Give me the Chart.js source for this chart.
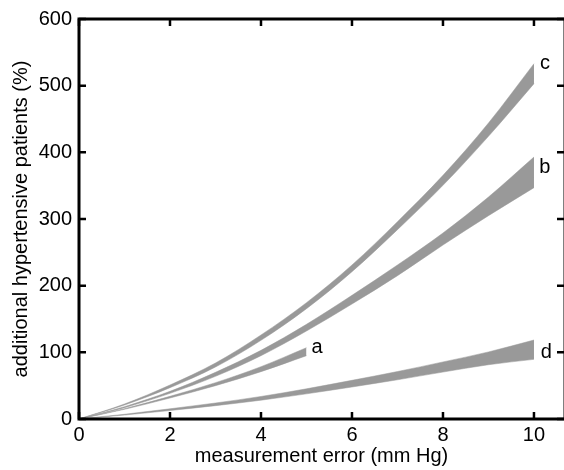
<!DOCTYPE html>
<html>
<head>
<meta charset="utf-8">
<script src="https://cdn.jsdelivr.net/npm/chart.js@4/dist/chart.umd.min.js"></script>
<style>
  html, body { margin: 0; padding: 0; background: #fff; }
  #wrap { width: 564px; height: 470px; }
</style>
</head>
<body>
<div id="wrap"><canvas id="c" width="564" height="470"></canvas></div>
<script>
// ---- data ----
const xs = [0, 1, 2, 3, 4, 5, 6, 7, 8, 9, 10];
const cUpper = [0, 22.5, 51, 84, 126, 174.5, 231, 296, 365.5, 444, 533];
const cLower = [0, 21, 47, 78, 118, 165.5, 221, 284, 350.5, 424, 503];
const bUpper = [0, 18.5, 41.5, 70, 103, 142, 185.5, 231, 279, 333, 393];
const bLower = [0, 17, 38.5, 64, 95, 132, 172.5, 215, 261, 305, 347];
const aXs = [0, 1, 2, 3, 4, 5];
const aUpper = [0, 15.5, 34, 54.5, 78.5, 107];
const aLower = [0, 14.5, 31.5, 50, 71, 95];
const dUpper = [0, 7.1, 15.3, 24, 33.8, 45.3, 58, 71.2, 85.6, 100.6, 118.5];
const dLower = [0, 5.9, 12.7, 20, 28.2, 37.7, 48, 58.8, 70.4, 81.4, 89.5];
const bandNames = ['a', 'b', 'c', 'd'];
const bandLabelX = [5.23, 10.24, 10.24, 10.27];
const bandLabelY = [107, 377, 533, 100];
const xTicks = [0, 2, 4, 6, 8, 10];
const yTicks = [0, 100, 200, 300, 400, 500, 600];
const xTitle = 'measurement error (mm Hg)';
const yTitle = 'additional hypertensive patients (%)';

const GRAY = '#999999';
const FONT = 'Arial, "Liberation Sans", Helvetica, sans-serif';

function pts(xv, yv) { return xv.map((x, i) => ({ x: x, y: yv[i] })); }
function band(xv, yv, fillNext) {
  return {
    data: pts(xv, yv),
    borderColor: GRAY,
    borderWidth: 0.5,
    backgroundColor: GRAY,
    pointRadius: 0,
    cubicInterpolationMode: 'monotone',
    fill: fillNext ? '+1' : false
  };
}

const framePlugin = {
  id: 'frame',
  afterDatasetsDraw(chart) {
    const ctx = chart.ctx;
    const a = chart.chartArea;
    const sx = chart.scales.x, sy = chart.scales.y;
    ctx.save();
    ctx.strokeStyle = '#000';
    ctx.lineWidth = 3;
    ctx.beginPath();
    ctx.moveTo(a.left, a.top); ctx.lineTo(a.right + 2, a.top);
    ctx.moveTo(a.left, a.bottom); ctx.lineTo(a.right + 2, a.bottom);
    ctx.moveTo(a.left, a.top - 1.5); ctx.lineTo(a.left, a.bottom + 1.5);
    ctx.moveTo(a.right + 1, a.top); ctx.lineTo(a.right + 1, a.bottom);
    ctx.stroke();
    const TL = 7;
    ctx.lineWidth = 2.5;
    ctx.beginPath();
    xTicks.forEach(v => {
      const px = sx.getPixelForValue(v);
      ctx.moveTo(px, a.bottom); ctx.lineTo(px, a.bottom - TL);
      ctx.moveTo(px, a.top); ctx.lineTo(px, a.top + TL);
    });
    yTicks.forEach(v => {
      const py = sy.getPixelForValue(v);
      ctx.moveTo(a.left, py); ctx.lineTo(a.left + TL, py);
      ctx.moveTo(a.right, py); ctx.lineTo(a.right - TL, py);
    });
    ctx.stroke();
    // band labels
    ctx.fillStyle = '#000';
    ctx.font = '20px ' + FONT;
    ctx.textAlign = 'center';
    ctx.textBaseline = 'middle';
    bandNames.forEach((n, i) => {
      ctx.fillText(n, sx.getPixelForValue(bandLabelX[i]), sy.getPixelForValue(bandLabelY[i]));
    });
    ctx.restore();
  }
};

new Chart(document.getElementById('c'), {
  type: 'line',
  data: {
    datasets: [
      band(xs, cUpper, true), band(xs, cLower, false),
      band(xs, bUpper, true), band(xs, bLower, false),
      band(aXs, aUpper, true), band(aXs, aLower, false),
      band(xs, dUpper, true), band(xs, dLower, false)
    ]
  },
  options: {
    responsive: false,
    animation: false,
    devicePixelRatio: 1,
    layout: { padding: { top: 15, right: 0, left: 0, bottom: 0 } },
    plugins: { legend: { display: false }, tooltip: { enabled: false } },
    scales: {
      x: {
        type: 'linear',
        min: 0,
        max: 10.66,
        grid: { display: false, drawTicks: false },
        border: { display: false },
        afterBuildTicks(s) { s.ticks = xTicks.map(v => ({ value: v })); },
        ticks: { color: '#000', font: { family: FONT, size: 20 }, padding: 4, maxRotation: 0 },
        afterFit(s) { s.height = 51; },
        title: { display: true, text: xTitle, color: '#000', font: { family: FONT, size: 20 }, padding: { top: 0, bottom: 2 } }
      },
      y: {
        min: 0,
        max: 600,
        grid: { display: false, drawTicks: false },
        border: { display: false },
        afterBuildTicks(s) { s.ticks = yTicks.map(v => ({ value: v })); },
        ticks: { color: '#000', font: { family: FONT, size: 20 }, padding: 7 },
        afterFit(s) { s.width = 79; },
        title: { display: true, text: yTitle, color: '#000', font: { family: FONT, size: 20 }, padding: { top: 9, bottom: 0 } }
      }
    }
  },
  plugins: [framePlugin]
});
</script>
</body>
</html>
